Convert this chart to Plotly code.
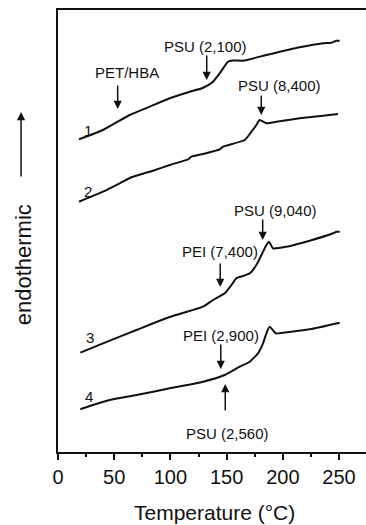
import plotly.graph_objects as go

# DSC heating traces (temperature in °C, heat flow in arbitrary offset units)
t1 = [18.7, 40.0, 63.8, 81.6, 99.4, 117.2, 128.7, 137.9, 143.9, 151.2, 155.4, 164.6, 185.4, 215.0, 235.8, 243.2, 247.7, 250.6]
h1 = [312.7, 322.0, 337.0, 345.3, 353.7, 360.3, 364.0, 370.3, 378.7, 390.3, 391.5, 391.3, 397.0, 404.7, 408.7, 409.3, 411.3, 411.3]

t2 = [18.7, 40.0, 54.9, 65.3, 84.5, 99.4, 115.7, 118.7, 129.0, 143.9, 146.8, 166.1, 172.1, 176.5, 179.4, 185.4, 194.3, 215.0, 235.8, 249.1]
h2 = [250.3, 260.3, 268.7, 274.7, 281.3, 287.0, 292.7, 295.3, 298.0, 302.7, 305.3, 312.0, 320.3, 327.0, 332.0, 328.7, 330.3, 333.7, 336.3, 338.0]

t3 = [19.9, 40.0, 69.8, 99.4, 129.0, 137.9, 148.3, 154.3, 158.7, 164.6, 170.6, 176.5, 181.0, 185.4, 187.7, 191.3, 203.2, 223.9, 244.7, 247.7, 250.6]
h3 = [99.3, 108.7, 122.0, 135.0, 145.3, 152.0, 158.7, 167.0, 173.7, 176.0, 178.7, 187.0, 197.0, 207.0, 210.3, 203.7, 205.3, 211.3, 218.7, 220.3, 220.3]

t4 = [19.9, 28.2, 46.0, 69.8, 99.4, 129.0, 148.3, 161.7, 170.6, 177.9, 182.4, 185.4, 188.3, 193.7, 200.2, 223.9, 250.6]
h4 = [42.7, 46.0, 52.0, 57.0, 63.7, 70.3, 77.0, 85.3, 90.3, 98.7, 108.7, 118.7, 125.3, 118.7, 119.3, 122.7, 129.3]

# Curve numbers
num_text = ["1", "2", "3", "4"]
num_t = [26.5, 26.4, 28.9, 27.8]
num_h = [321.5, 261.0, 114.5, 55.3]

# Transition labels and their arrows (tip/tail heights)
lab_text = ["PET/HBA", "PSU (2,100)", "PSU (8,400)", "PSU (9,040)", "PEI (7,400)", "PEI (2,900)", "PSU (2,560)"]
lab_t = [61.6, 131.4, 197.2, 193.2, 143.9, 145.4, 151.0]
lab_h = [380.0, 405.5, 367.0, 242.0, 200.3, 117.0, 18.7]
arr_t = [53.1, 132.3, 180.8, 182.1, 144.3, 144.8, 148.8]
arr_tip = [343.0, 372.0, 337.0, 212.0, 165.0, 83.0, 68.0]
arr_tail = [368.0, 398.0, 358.0, 234.0, 190.0, 109.0, 40.0]

x_ticks = [0, 50, 100, 150, 200, 250]

FONT = "Arial, Liberation Sans, sans-serif"
INK = "#111111"

fig = go.Figure()
for t, h in [(t1, h1), (t2, h2), (t3, h3), (t4, h4)]:
    fig.add_trace(go.Scatter(
        x=t, y=h, mode="lines",
        line=dict(color=INK, width=2, shape="spline", smoothing=0.5),
        hoverinfo="skip", showlegend=False,
    ))

annotations = []
for s, x, y in zip(num_text, num_t, num_h):
    annotations.append(dict(x=x, y=y, xref="x", yref="y", text=s, showarrow=False,
                            xanchor="center", yanchor="middle",
                            font=dict(family=FONT, size=15, color=INK)))
for s, x, y in zip(lab_text, lab_t, lab_h):
    annotations.append(dict(x=x, y=y, xref="x", yref="y", text=s, showarrow=False,
                            xanchor="center", yanchor="middle",
                            font=dict(family=FONT, size=15, color=INK)))
for x, tip, tail in zip(arr_t, arr_tip, arr_tail):
    annotations.append(dict(x=x, y=tip, xref="x", yref="y", ax=x, ay=tail,
                            axref="x", ayref="y", text="", showarrow=True,
                            arrowhead=2, arrowsize=1.1, arrowwidth=1.5, arrowcolor=INK))

# Axis titles
annotations.append(dict(x=0.5065, y=-0.138, xref="paper", yref="paper",
                        xanchor="center", yanchor="middle",
                        text="Temperature (°C)", showarrow=False,
                        font=dict(family=FONT, size=21, color=INK)))
annotations.append(dict(x=-0.113, y=0.423, xref="paper", yref="paper",
                        xanchor="center", yanchor="middle",
                        text="endothermic", textangle=-90, showarrow=False,
                        font=dict(family=FONT, size=22, color=INK)))
annotations.append(dict(x=-0.120, y=0.769, xref="paper", yref="paper",
                        ax=0, ay=66, text="", showarrow=True,
                        arrowhead=2, arrowsize=1.1, arrowwidth=1.5, arrowcolor=INK))

fig.update_layout(
    width=366, height=525,
    margin=dict(l=58, r=0, t=10, b=73),
    paper_bgcolor="white", plot_bgcolor="white",
    annotations=annotations,
    xaxis=dict(
        range=[0, 274], tickvals=x_ticks, showgrid=False, zeroline=False,
        showline=True, linecolor=INK, linewidth=2, mirror=True,
        ticks="outside", ticklen=6, tickwidth=1.5, tickcolor=INK,
        ticklabelstandoff=0,
        minor=dict(dtick=25, tick0=25, ticks="outside", ticklen=3, tickwidth=1.5, tickcolor=INK),
        tickfont=dict(family=FONT, size=20, color=INK),
    ),
    yaxis=dict(
        range=[0, 442], showgrid=False, zeroline=False, showticklabels=False,
        showline=True, linecolor=INK, linewidth=2, ticks="",
    ),
)

fig.write_html("out.html")
